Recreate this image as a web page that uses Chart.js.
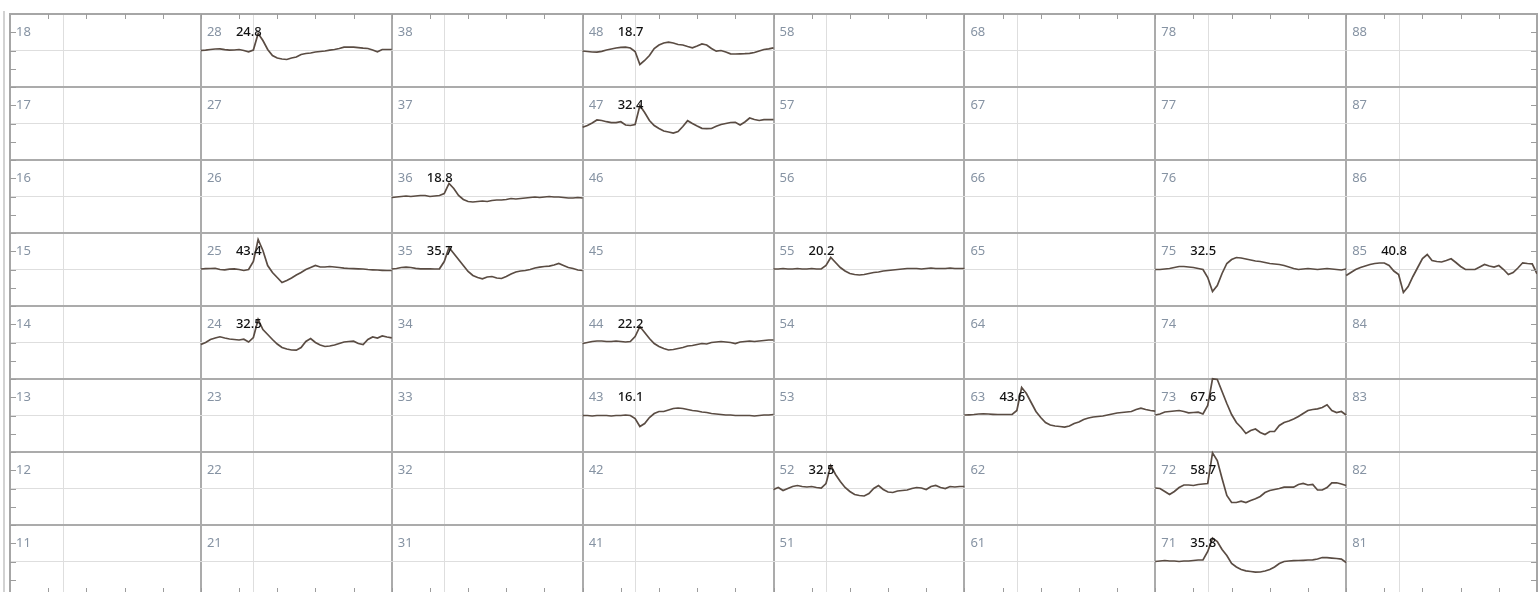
<!DOCTYPE html>
<html>
<head>
<meta charset="utf-8">
<title>Mapa křivek</title>
<script src="https://cdn.jsdelivr.net/npm/chart.js@4/dist/chart.umd.min.js"></script>
<style>
    html, body { margin: 0; padding: 0; background: #fff; overflow: hidden; }
    #ramecek { position: absolute; left: 3px; top: 11px; height: 600px; border-left: 2px solid #d2d2d2; }
    #mapa { position: absolute; left: 0; top: 0; }
</style>
</head>
<body>
<div id="ramecek"></div>
<canvas id="mapa" width="1539" height="604"></canvas>
<script>
// sloupce = kvadranty (desítky), řádky = pozice zubu (shora dolů)
const kvadranty = [1, 2, 3, 4, 5, 6, 7, 8];
const poziceZubu = [8, 7, 6, 5, 4, 3, 2, 1];

// zuby, u kterých je naměřená křivka, a hodnota u křivky
const zubyKrivky = [28, 48, 47, 36, 25, 35, 55, 75, 85, 24, 44, 43, 63, 73, 52, 72, 71];
const hodnotyKrivky = [24.8, 18.7, 32.4, 18.8, 43.4, 35.7, 20.2, 32.5, 40.8, 32.5, 22.2, 16.1, 43.6, 67.6, 32.5, 58.7, 35.8];

// vzorky křivek (nahoru kladně), 41 vzorků přes šířku buňky
const krivka28 = [0, 0.3, 1, 1.5, 1.7, 0.8, 0.3, 0.5, 1, 0, -1.3, 0.5, 17, 10, 1, -5, -7.5, -8.5, -9, -7.5, -6.5, -4, -3, -2.5, -1.5, -1, -0.5, 0.3, 1, 2, 3.3, 3.3, 3.3, 2.8, 2.3, 2, 0.5, -1.3, 1, 1, 1];
const krivka48 = [-0.5, -1, -1.5, -1.7, -0.8, 0.5, 1.5, 2.5, 3.2, 3.3, 2.5, -1, -14, -10, -5, 2, 5.5, 7.5, 8.3, 7.5, 6, 5.5, 4, 2.7, 4.5, 6.5, 5.5, 2, -0.7, 0, -1.5, -3.3, -3.5, -3.3, -3.2, -2.8, -2, -0.5, 1, 1.7, 2.7];
const krivka47 = [-3.8, -2, 0.5, 3.5, 3, 1.8, 0.8, 0.8, 1.8, -1.5, -2, -1, 18, 11, 3, -2, -5, -7.5, -8.5, -9.5, -8, -3, 2.8, 0, -2.5, -4.8, -5.2, -5, -2.8, -1, 0, 1, 1.2, -1.5, 1.5, 5.5, 4, 3, 3.8, 3.8, 3.8];
const krivka36 = [-1, -0.5, 0, 0.5, 0, 0.5, 1, 1, 0, 0.5, 1, 3, 13, 8, 1, -3, -5, -5.5, -5, -4.5, -5, -4, -3.5, -3.5, -3, -2, -2.5, -2, -1.5, -1, -0.5, -1, -0.5, 0, -0.5, -0.5, -1, -1.5, -1.5, -1, -1.5];
const krivka25 = [0.5, 0.8, 1, 1.2, 0, -0.3, 0.3, 0.7, 0, -1, 0, 8, 30, 19, 4, -3, -8, -13, -11, -8.5, -5.5, -3, 0, 2, 4, 2.5, 2.5, 3, 2.5, 2, 1.4, 1, 0.8, 0.7, 0.5, 0, -0.3, -0.5, -0.8, -1, -1];
const krivka35 = [0.5, 1, 2, 2.4, 2, 1.2, 0.7, 0.7, 0.7, 0.5, 0.7, 8, 22, 16, 10, 4, -2, -6, -8, -9.3, -7.5, -7, -8.5, -9, -7, -4.5, -2.5, -1.5, -1, 0, 1.5, 2.4, 3, 3.4, 4.5, 6, 4, 2, 1, -0.5, -1];
const krivka55 = [0.5, 0.5, 1, 0.5, 0.5, 1, 0.5, 0.5, 1, 0.5, 0.5, 4, 12, 7, 2, -1.5, -4, -5, -5.5, -5, -4, -3, -2.5, -1.5, -1, -0.5, 0, 0.5, 1, 1, 1, 0.5, 1, 1.5, 1, 1, 1, 1.5, 1, 1, 1];
const krivka75 = [0, 0, 0.5, 1, 2, 3, 3, 2.5, 2, 1, 0, -8, -22, -16, -4, 6, 10, 12, 11.5, 10.5, 9.5, 8.5, 8, 7, 6, 5.5, 5, 4, 2.5, 1, 0, 0.5, 1, 0.5, 0, 0.5, 1, 0.5, 0, -0.5, 0.5];
const krivka85 = [-6, -3, 0, 2, 3.5, 5, 6, 6.5, 6.5, 4, -1.5, -5, -23, -17, -7, 2, 11, 15, 9, 8, 7.5, 9, 10.7, 7, 3, 0, 0, 0, 2.5, 5, 3.5, 2.4, 4, 0, -5, -3, 1.5, 6.7, 6, 5.7, -4.3];
const krivka24 = [-2, 0, 3, 4.5, 5.7, 4.5, 3.5, 3, 2.5, 3.3, 0.5, 5, 23, 13, 8, 3, -1.5, -5, -6.5, -7.5, -7.7, -5, 1, 4, 0, -2.5, -4, -3.5, -2.5, -1, 0.5, 1, 1.3, -1, -2, 3, 5.5, 4.5, 6.5, 5.5, 4.7];
const krivka44 = [-1, 0, 1, 1.5, 1.5, 1, 1, 1.5, 1, 0.5, 1, 6, 16, 10, 4, -1, -4, -6, -7.5, -7, -6, -5, -3.5, -3, -2, -1, -1.5, 0, 0.5, 1, 0.5, 0, -1, 0.5, 1, 1.5, 1, 1.5, 2, 2.5, 2.5];
const krivka43 = [0, 0, -0.5, 0, 0, 0, -0.5, 0, 0, 0.5, 0, -3, -11, -8, -2, 2, 4, 4, 5.5, 7, 7.5, 7, 6, 5, 4.5, 3.5, 3, 2, 1.5, 1, 0.5, 0.5, 0, 0, 0, 0, -0.5, 0, 0.5, 0.5, 1];
const krivka63 = [0.5, 0.7, 1, 1.5, 1.7, 1.5, 1.2, 1, 1, 1, 1, 5, 28, 22, 13, 4, -2, -7, -9.5, -10.5, -11, -11.6, -10.5, -8, -6.5, -4, -2.5, -1.5, -1, -0.5, 0.5, 1.5, 2.5, 3, 3.5, 4, 6, 7.4, 6, 5, 4.4];
const krivka73 = [0.5, 1.5, 3.5, 4, 4.5, 5, 4, 2.7, 3, 3.4, 1.5, 10, 36.7, 36, 24, 12, 1, -7, -12, -18, -15, -13.5, -17, -19, -16, -16, -10, -7, -5.5, -3.5, -1, 2, 5, 6, 6.7, 8, 10.7, 5, 3, 4, 0.5];
const krivka52 = [-1, 1, -2, 0, 2, 3, 2, 1.5, 2, 1, 0.5, 5, 23, 14, 7, 1, -3, -6, -7, -7.5, -5, 0, 3, -1, -3.5, -4, -2.5, -2, -1.5, 0, 1, 0.5, -1, 2, 3, 1, 0, 2, 1.5, 2, 2];
const krivka72 = [0.5, 0, -3, -6, -3, 1, 3.5, 3.5, 3, 4, 4.5, 5, 35.7, 28, 10, -7, -14, -14, -12.7, -14, -12, -10.3, -8, -4, -2, -1, 0, 1.3, 1.3, 1.3, 4, 5, 3.5, 4, -1.5, -1.5, 1, 5.7, 5.7, 4.5, 3];
const krivka71 = [0, 0.5, 1, 0.5, 0.5, 0, 0.5, 0.5, 1, 1.5, 1.7, 10, 23.4, 20, 12, 6, -2, -5.5, -8, -9.3, -10, -10.6, -10.5, -9.5, -8, -5.5, -2, 0, 0.5, 0.8, 1, 1.2, 1.5, 1.7, 2.5, 4, 3.8, 3.4, 3, 2.4, -1];

const krivky = [krivka28, krivka48, krivka47, krivka36, krivka25, krivka35, krivka55, krivka75, krivka85,
    krivka24, krivka44, krivka43, krivka63, krivka73, krivka52, krivka72, krivka71];

// kolik jednotek amplitudy připadá na výšku jednoho řádku
const rozsahRadku = 73;
// poloha svislé časové značky v buňce
const casovaZnacka = 0.278;

function sloupecZubu(zub) {
    return kvadranty.indexOf(Math.floor(zub / 10));
}

function radekZubu(zub) {
    return poziceZubu.indexOf(zub % 10);
}

function pripravDatasety() {
    return zubyKrivky.map((zub, i) => {
        const sloupec = sloupecZubu(zub);
        const radek = radekZubu(zub);
        const vzorky = krivky[i];
        return {
            label: String(zub),
            data: vzorky.map((v, j) => ({
                x: sloupec + j / (vzorky.length - 1),
                y: radek + 0.5 - v / rozsahRadku
            })),
            borderColor: '#5a4c43',
            borderWidth: 1.7,
            pointRadius: 0,
            showLine: true,
            tension: 0
        };
    });
}

// mřížka: tmavé čáry na hranách buněk, světlé uvnitř
const mrizkaX = [];
for (let i = 0; i <= kvadranty.length; i++) {
    mrizkaX.push(i);
    if (i < kvadranty.length) mrizkaX.push(i + casovaZnacka);
}
const mrizkaY = [];
for (let i = 0; i <= poziceZubu.length; i++) {
    mrizkaY.push(i);
    if (i < poziceZubu.length) mrizkaY.push(i + 0.5);
}

function jeHrana(hodnota) {
    return Math.abs(hodnota - Math.round(hodnota)) < 0.001;
}

const popiskyBunek = {
    id: 'popiskyBunek',
    afterDatasetsDraw(chart) {
        const ctx = chart.ctx;
        const osaX = chart.scales.x;
        const osaY = chart.scales.y;
        const area = chart.chartArea;
        ctx.save();

        // krátké značky dovnitř grafu
        ctx.strokeStyle = '#9c9c9c';
        ctx.lineWidth = 1;
        ctx.beginPath();
        for (let k = 1; k < kvadranty.length * 5; k++) {
            const px = Math.round(osaX.getPixelForValue(k / 5)) + 0.5;
            ctx.moveTo(px, area.top);
            ctx.lineTo(px, area.top + 5);
            ctx.moveTo(px, area.bottom);
            ctx.lineTo(px, area.bottom - 10);
        }
        for (let k = 1; k < poziceZubu.length * 4; k++) {
            const py = Math.round(osaY.getPixelForValue(k / 4)) + 0.5;
            ctx.moveTo(area.left, py);
            ctx.lineTo(area.left + 6, py);
            ctx.moveTo(area.right, py);
            ctx.lineTo(area.right - 6, py);
        }
        ctx.stroke();

        // čísla zubů v každé buňce
        ctx.textBaseline = 'middle';
        ctx.textAlign = 'left';
        ctx.font = '13px "Noto Sans"';
        ctx.fillStyle = '#8693a3';
        kvadranty.forEach((kvadrant, sloupec) => {
            poziceZubu.forEach((pozice, radek) => {
                const zub = kvadrant * 10 + pozice;
                ctx.fillText(String(zub), osaX.getPixelForValue(sloupec) + 6, osaY.getPixelForValue(radek + 0.25));
            });
        });

        // hodnoty u křivek
        ctx.fillStyle = '#111111';
        ctx.font = '500 13px "Noto Sans"';
        zubyKrivky.forEach((zub, i) => {
            const x = osaX.getPixelForValue(sloupecZubu(zub)) + 35;
            const y = osaY.getPixelForValue(radekZubu(zub) + 0.25);
            ctx.fillText(hodnotyKrivky[i].toFixed(1), x, y);
        });
        ctx.restore();
    }
};

function osaMrizky(pozice, hodnoty, obraceni) {
    return {
        type: 'linear',
        position: pozice,
        min: 0,
        max: 8,
        reverse: obraceni,
        afterBuildTicks: (osa) => {
            osa.ticks = hodnoty.map(v => ({ value: v }));
        },
        ticks: { display: false },
        grid: {
            drawTicks: false,
            color: (c) => jeHrana(c.tick.value) ? '#ababab' : '#dedede',
            lineWidth: (c) => jeHrana(c.tick.value) ? 2 : 1
        },
        border: { display: true, color: '#a6a6a6', width: 2 }
    };
}

function osaOkraje(pozice) {
    return {
        type: 'linear',
        position: pozice,
        min: 0,
        max: 8,
        ticks: { display: false },
        grid: { display: false, drawTicks: false },
        border: { display: true, color: '#a6a6a6', width: 2 }
    };
}

document.addEventListener('DOMContentLoaded', () => {
    const ctx = document.getElementById('mapa').getContext('2d');
    window.mapaKrivek = new Chart(ctx, {
        type: 'scatter',
        data: { datasets: pripravDatasety() },
        options: {
            responsive: false,
            animation: false,
            devicePixelRatio: 1,
            layout: { padding: { left: 10, top: 14, right: 2, bottom: 6 } },
            plugins: {
                legend: { display: false },
                tooltip: { enabled: false }
            },
            scales: {
                x: osaMrizky('top', mrizkaX, false),
                y: osaMrizky('left', mrizkaY, true),
                x2: osaOkraje('bottom'),
                y2: osaOkraje('right')
            }
        },
        plugins: [popiskyBunek]
    });
});
</script>
</body>
</html>
